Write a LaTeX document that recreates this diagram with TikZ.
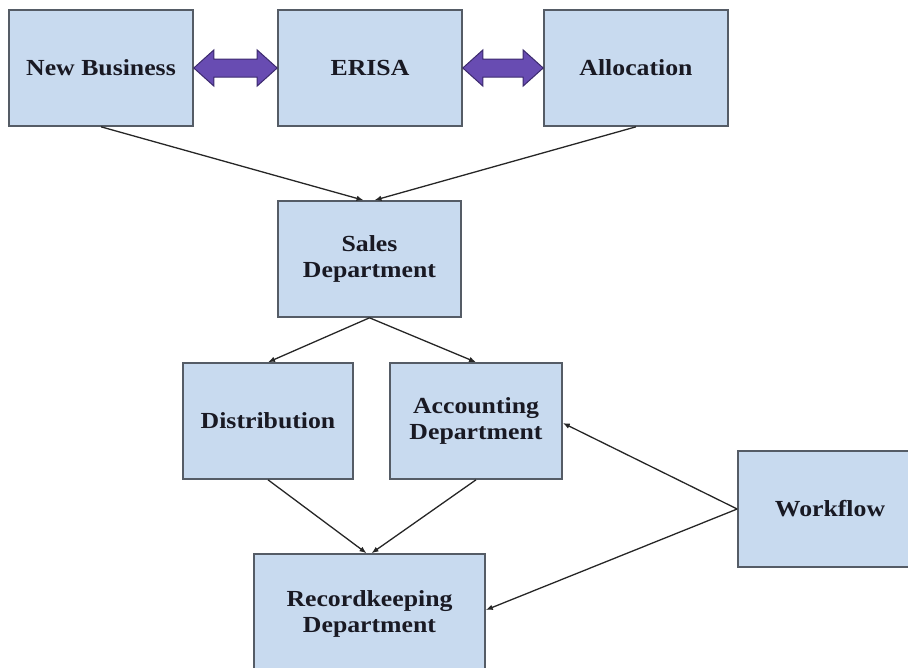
\documentclass[tikz,border=0pt]{standalone}
\usepackage{fontspec}
\setmainfont[FakeStretch=1.12]{Liberation Serif}
\usetikzlibrary{arrows.meta,calc}
\definecolor{boxfill}{RGB}{200,218,239}
\definecolor{boxline}{RGB}{85,92,102}
\definecolor{arrfill}{RGB}{104,76,178}
\definecolor{arrline}{RGB}{60,42,110}
\definecolor{txt}{RGB}{25,25,35}
\begin{document}
\begin{tikzpicture}[x=1pt,y=-1pt,
  box/.style={draw=boxline,line width=1.6pt,fill=boxfill,minimum width=184pt,minimum height=116pt,
    align=center,inner sep=0pt,text=txt,font=\fontsize{23}{25.5}\selectfont\bfseries},
  conn/.style={draw=black!85,line width=1.3pt,-{Latex[length=7pt,width=5.5pt]}},
  fat/.style={fill=arrfill,draw=arrline,line width=1pt,line join=miter}]
\useasboundingbox (0,0) rectangle (908,667);
\begin{scope}
\clip (0,0) rectangle (908,667);
\node[box] (nb) at (101,68) {New Business};
\node[box] (er) at (370,68) {ERISA};
\node[box] (al) at (636,68) {Allocation};
\node[box,minimum width=183pt] (sd) at (369.5,259) {Sales\\Department};
\node[box,minimum width=170pt] (di) at (268,421) {Distribution};
\node[box,minimum width=172pt] (ac) at (476,421) {Accounting\\Department};
\node[box] (wf) at (830,509) {Workflow};
\node[box,minimum width=231pt,minimum height=120pt] (rk) at (369.5,614) {Recordkeeping\\Department};
\end{scope}
% fat double arrows
\path[fat] (nb.east) -- ++(20,-18) -- ++(0,9) -- ($(er.west)+(-20,-9)$) -- ++(0,-9) -- (er.west)
  -- ++(-20,18) -- ++(0,-9) -- ($(nb.east)+(20,9)$) -- ++(0,9) -- cycle;
\path[fat] (er.east) -- ++(20,-18) -- ++(0,9) -- ($(al.west)+(-20,-9)$) -- ++(0,-9) -- (al.west)
  -- ++(-20,18) -- ++(0,-9) -- ($(er.east)+(20,9)$) -- ++(0,9) -- cycle;
% connectors
\draw[conn] (nb.south) -- ($(sd.north)+(-6,0)$);
\draw[conn] (al.south) -- ($(sd.north)+(5,0)$);
\draw[conn] (sd.south) -- (di.north);
\draw[conn] (sd.south) -- (ac.north);
\draw[conn] (di.south) -- ($(rk.north)+(-3,0)$);
\draw[conn] (ac.south) -- ($(rk.north)+(2,0)$);
\draw[conn] (wf.west) -- ($(ac.east)+(0,2)$);
\draw[conn] (wf.west) -- ($(rk.east)+(0,-4)$);
\end{tikzpicture}
\end{document}
